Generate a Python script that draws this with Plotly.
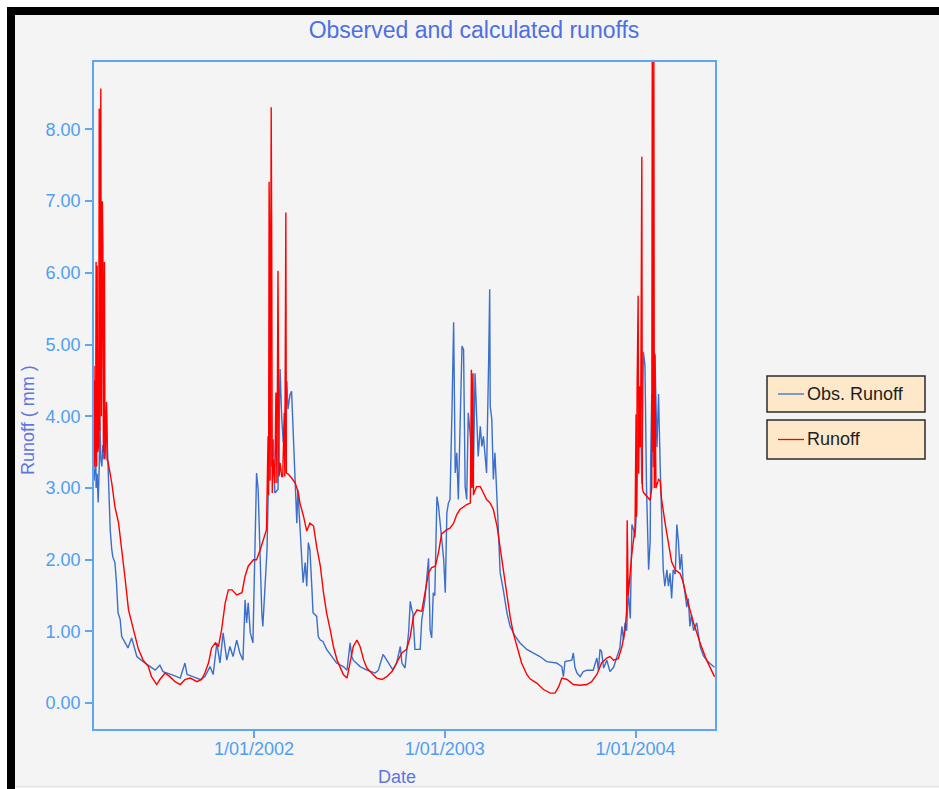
import pandas as pd
import plotly.graph_objects as go

# ---------------- data ----------------
start_date = "2001-03-01"
series_names = ["Obs. Runoff", "Runoff"]

obs_day = [0, 2, 3, 4, 6, 8, 10, 11, 13, 15, 17, 19, 21, 24, 26, 27, 31, 34, 36, 40,
           43, 46, 50, 53, 59, 65, 72, 75, 82, 94, 103, 117, 126, 132, 151, 165, 174, 178, 189, 203,
           212, 222, 228, 235, 241, 247, 254, 260, 266, 273, 279, 285, 289, 292, 295, 299, 304, 308, 311, 314,
           318, 321, 323, 327, 331, 333, 335, 337, 340, 343, 346, 352, 356, 359, 362, 366, 369, 371, 375, 378,
           381, 385, 388, 390, 394, 397, 400, 404, 407, 410, 413, 417, 419, 426, 429, 433, 438, 445, 452, 464,
           477, 484, 490, 493, 496, 509, 522, 538, 544, 553, 560, 567, 572, 579, 586, 589, 595, 602, 605, 608,
           610, 614, 624, 627, 633, 640, 643, 646, 649, 652, 656, 659, 662, 665, 669, 672, 675, 678, 681, 685,
           688, 691, 694, 697, 700, 704, 707, 710, 713, 716, 720, 723, 726, 729, 732, 735, 739, 742, 745, 748,
           751, 755, 757, 758, 761, 764, 767, 771, 774, 777, 783, 790, 796, 806, 815, 828, 840, 853, 866, 885,
           895, 898, 901, 914, 917, 920, 924, 930, 936, 943, 955, 962, 965, 968, 971, 975, 981, 987, 994, 1000,
           1006, 1010, 1013, 1016, 1019, 1022, 1026, 1029, 1032, 1035, 1038, 1041, 1045, 1048, 1051, 1054, 1057, 1061, 1064, 1065,
           1067, 1070, 1073, 1077, 1080, 1083, 1086, 1089, 1092, 1096, 1099, 1102, 1105, 1108, 1112, 1115, 1118, 1121, 1124, 1127,
           1130, 1134, 1137, 1140, 1143, 1147, 1153, 1156, 1160, 1166, 1172, 1179, 1187]
obs_val = [3.1, 3.3, 3.85, 3.0, 3.2, 2.8, 3.3, 4.0, 3.4, 3.3, 3.6, 3.4, 3.5, 4.1, 3.5, 3.3, 2.42, 2.14, 2.04, 1.96,
           1.68, 1.26, 1.17, 0.93, 0.84, 0.77, 0.91, 0.84, 0.65, 0.58, 0.53, 0.46, 0.53, 0.44, 0.39, 0.35, 0.56, 0.40, 0.37, 0.33,
           0.37, 0.51, 0.40, 0.84, 0.56, 0.98, 0.6, 0.79, 0.65, 0.88, 0.7, 0.6, 1.44, 1.12, 1.4, 0.98, 0.84, 2.18, 3.21, 2.98,
           1.91, 1.26, 1.07, 1.68, 2.14, 2.84, 3.72, 5.63, 3.3, 3.68, 2.93, 2.98, 4.66, 4.0, 3.64, 4.05, 4.49, 4.1, 4.3, 4.35,
           3.86, 3.21, 2.51, 2.98, 2.47, 1.91, 1.68, 1.96, 1.63, 2.24, 2.14, 1.58, 1.26, 1.21, 0.93, 0.88, 0.86, 0.75, 0.68, 0.56,
           0.51, 0.46, 0.84, 0.65, 0.6, 0.51, 0.46, 0.42, 0.46, 0.68, 0.6, 0.51, 0.46, 0.56, 0.79, 0.56, 0.49, 1.0, 1.42, 1.3,
           1.26, 0.75, 0.75, 1.16, 1.44, 2.02, 1.02, 0.91, 1.54, 1.5, 2.88, 2.75, 2.51, 2.37, 2.0, 1.54, 2.65, 2.79, 2.84, 4.14,
           5.31, 3.21, 3.49, 2.84, 3.82, 4.98, 4.93, 3.02, 2.84, 4.05, 3.72, 3.02, 3.3, 4.6, 4.0, 3.44, 3.86, 3.58, 3.72, 3.4,
           3.21, 4.79, 5.77, 4.14, 3.96, 3.12, 3.49, 2.84, 2.37, 1.82, 1.58, 1.26, 1.07, 0.93, 0.84, 0.75, 0.70, 0.65, 0.58, 0.56,
           0.51, 0.37, 0.58, 0.6, 0.7, 0.5, 0.42, 0.37, 0.44, 0.46, 0.46, 0.63, 0.46, 0.75, 0.72, 0.49, 0.6, 0.44, 0.5, 0.62,
           0.77, 1.07, 0.88, 1.12, 1.01, 1.57, 1.18, 2.49, 2.43, 2.31, 2.71, 3.91, 4.37, 3.06, 4.9, 4.71, 3.0, 1.86, 2.26, 3.4,
           4.31, 3.29, 4.88, 3.57, 4.31, 3.34, 2.37, 1.86, 1.63, 1.86, 1.63, 1.81, 1.46, 1.86, 1.8, 2.49, 2.26, 1.86, 2.08, 1.69,
           1.57, 1.34, 1.46, 1.07, 1.23, 1.01, 1.12, 0.95, 0.78, 0.66, 0.6, 0.55, 0.5]

sim_day = [0, 1, 2, 3, 4, 5, 6, 7, 9, 10, 11, 13, 14, 16, 17, 18, 20, 21, 24, 25,
           27, 34, 40, 47, 53, 59, 66, 72, 78, 85, 94, 104, 110, 120, 126, 136, 145, 155, 165, 174,
           184, 197, 206, 212, 219, 225, 232, 238, 244, 251, 257, 264, 273, 283, 289, 295, 305, 311, 318, 324,
           330, 333, 334, 335, 336, 337, 339, 340, 341, 343, 346, 348, 350, 352, 354, 356, 359, 361, 364, 365,
           367, 368, 372, 378, 385, 391, 394, 401, 407, 413, 420, 426, 433, 439, 445, 452, 458, 465, 471, 477,
           484, 490, 496, 503, 509, 516, 522, 531, 541, 551, 560, 570, 579, 589, 598, 605, 611, 618, 627, 633,
           640, 646, 653, 659, 665, 675, 681, 688, 694, 700, 707, 713, 720, 722, 723, 725, 726, 727, 732, 739,
           745, 751, 758, 764, 771, 777, 783, 790, 796, 802, 809, 818, 828, 834, 847, 860, 873, 882, 889, 895,
           905, 917, 930, 943, 952, 962, 971, 981, 987, 994, 1003, 1010, 1016, 1019, 1020, 1022, 1029, 1032, 1035, 1037,
           1038, 1039, 1041, 1042, 1044, 1045, 1046, 1048, 1049, 1051, 1057, 1064, 1067, 1068, 1069, 1070, 1071, 1072, 1073, 1075,
           1080, 1083, 1086, 1093, 1099, 1105, 1112, 1121, 1127, 1134, 1147, 1160, 1172, 1187]
sim_val = [4.7, 3.3, 4.5, 3.4, 6.15, 3.3, 6.1, 3.5, 3.6, 8.29, 3.8, 8.57, 4.0, 7.0, 6.38, 3.5, 6.15, 3.4, 4.2, 3.4,
           3.36, 3.07, 2.74, 2.51, 2.18, 1.77, 1.3, 1.12, 0.93, 0.75, 0.6, 0.51, 0.37, 0.26, 0.33, 0.42, 0.37, 0.3, 0.26, 0.33,
           0.35, 0.3, 0.33, 0.42, 0.56, 0.77, 0.84, 0.79, 1.02, 1.4, 1.58, 1.58, 1.51, 1.54, 1.77, 1.91, 2.0, 2.0, 2.14, 2.28,
           2.42, 3.72, 2.9, 7.27, 6.38, 3.1, 8.31, 6.36, 2.93, 3.4, 3.07, 4.33, 3.07, 6.03, 3.16, 3.35, 3.16, 3.16, 4.05, 3.16,
           6.84, 3.21, 3.19, 3.14, 3.07, 2.93, 2.79, 2.6, 2.4, 2.51, 2.47, 2.18, 1.91, 1.54, 1.26, 1.02, 0.79, 0.6, 0.51, 0.4,
           0.35, 0.56, 0.79, 0.88, 0.79, 0.6, 0.49, 0.42, 0.35, 0.33, 0.37, 0.44, 0.56, 0.70, 0.75, 0.93, 1.21, 1.3, 1.28, 1.56,
           1.82, 1.89, 1.91, 2.1, 2.36, 2.42, 2.44, 2.51, 2.63, 2.7, 2.74, 2.77, 2.79, 4.65, 3.0, 4.6, 2.9, 2.93, 3.02, 3.02,
           2.93, 2.84, 2.79, 2.7, 2.47, 2.18, 1.82, 1.49, 1.21, 0.98, 0.79, 0.56, 0.4, 0.34, 0.28, 0.19, 0.14, 0.14, 0.23, 0.35,
           0.33, 0.26, 0.25, 0.26, 0.3, 0.4, 0.56, 0.63, 0.65, 0.6, 0.62, 0.79, 1.02, 1.29, 2.55, 1.5, 2.09, 2.31, 2.43, 4.03,
           2.6, 4.4, 5.68, 3.2, 4.42, 3.57, 4.2, 7.62, 3.0, 2.94, 2.89, 2.83, 3.0, 9.3, 4.85, 3.5, 9.3, 3.0, 4.85, 3.0,
           3.12, 3.1, 2.83, 2.49, 2.2, 1.97, 1.86, 1.81, 1.69, 1.46, 1.12, 0.83, 0.6, 0.37]

y_ticks = [0, 1, 2, 3, 4, 5, 6, 7, 8]
x_tick_dates = ["2002-01-01", "2003-01-01", "2004-01-01"]
x_tick_labels = ["1/01/2002", "1/01/2003", "1/01/2004"]

# ---------------- figure ----------------
obs_dates = pd.to_datetime(start_date) + pd.to_timedelta(obs_day, unit="D")
sim_dates = pd.to_datetime(start_date) + pd.to_timedelta(sim_day, unit="D")

OBS_COLOR = "#3b6fcb"
SIM_COLOR = "#ff0000"
AXIS_COLOR = "#5ea6f5"
TICK_FONT_COLOR = "#4e9ef3"
TITLE_COLOR = "#4d6fe2"
AXTITLE_COLOR = "#5d76e0"
BG = "#f4f4f4"
FONT = "Liberation Sans, Arial, sans-serif"

W, H = 939, 789
L, R, T, B = 94, 224, 62, 60


def px_x(x):
    return (x - L) / (W - L - R)


def px_y(y):
    return (H - B - y) / (H - T - B)


fig = go.Figure()
fig.add_trace(go.Scatter(x=obs_dates, y=obs_val, mode="lines", name=series_names[0],
                         line=dict(color=OBS_COLOR, width=1.4)))
fig.add_trace(go.Scatter(x=sim_dates, y=sim_val, mode="lines", name=series_names[1],
                         line=dict(color=SIM_COLOR, width=1.4)))

shapes = []


def rect(x0, y0, x1, y1, fill, line_color=None, line_width=0, layer="above"):
    shapes.append(dict(type="rect", xref="paper", yref="paper",
                       x0=px_x(x0), x1=px_x(x1), y0=px_y(y1), y1=px_y(y0),
                       fillcolor=fill, layer=layer,
                       line=dict(color=line_color or fill, width=line_width)))


# window frame
rect(0, 0, W, 7, "white")
rect(0, 0, 7, H, "white")
rect(7, 7, W, 15, "black")
rect(7, 7, 15, H, "black")
rect(15, 786.5, W, 787.5, "#cfcfcf")
rect(15, 787.5, W, H, "white")

# legend boxes
legend_boxes = [(376, 412), (420, 459)]
legend_colors = [OBS_COLOR, SIM_COLOR]
annotations = []
for (y0, y1), col, name in zip(legend_boxes, legend_colors, series_names):
    rect(767, y0, 925, y1, "#fde9c9", line_color="#2a2a2a", line_width=1.5)
    yc = (y0 + y1) / 2
    shapes.append(dict(type="line", xref="paper", yref="paper",
                       x0=px_x(778), x1=px_x(804), y0=px_y(yc), y1=px_y(yc),
                       line=dict(color=col, width=1.3)))
    annotations.append(dict(text=name, xref="paper", yref="paper", x=px_x(805), y=px_y(yc),
                            xanchor="left", yanchor="middle", showarrow=False,
                            font=dict(family=FONT, size=18, color="#1e1e1e")))

# axis titles
annotations.append(dict(text="Date", xref="paper", yref="paper", x=px_x(397), y=px_y(777),
                        xanchor="center", yanchor="middle", showarrow=False,
                        font=dict(family=FONT, size=18, color=AXTITLE_COLOR)))
annotations.append(dict(text="Runoff ( mm )", xref="paper", yref="paper", x=px_x(28), y=px_y(420),
                        xanchor="center", yanchor="middle", showarrow=False, textangle=-90,
                        font=dict(family=FONT, size=18, color=AXTITLE_COLOR)))

fig.update_layout(
    width=W, height=H, autosize=False,
    margin=dict(l=L, r=R, t=T, b=B, pad=0),
    paper_bgcolor=BG, plot_bgcolor=BG,
    showlegend=False,
    title=dict(text="Observed and calculated runoffs", x=474 / W, xanchor="center",
               xref="container", yref="container", y=1 - 30 / H, yanchor="middle",
               font=dict(family=FONT, size=23, color=TITLE_COLOR)),
    shapes=shapes,
    annotations=annotations,
    xaxis=dict(type="date", range=["2001-03-01", "2004-06-01"],
               tickvals=x_tick_dates, ticktext=x_tick_labels,
               ticks="outside", ticklen=7, tickcolor=AXIS_COLOR, tickwidth=1.5,
               showgrid=False, zeroline=False, showline=True, mirror=True,
               linecolor=AXIS_COLOR, linewidth=1.5, ticklabelstandoff=-4,
               tickfont=dict(family=FONT, size=18, color=TICK_FONT_COLOR)),
    yaxis=dict(range=[-0.36, 8.94], tickvals=y_ticks, tickformat=".2f",
               ticks="outside", ticklen=7, tickcolor=AXIS_COLOR, tickwidth=1.5,
               showgrid=False, zeroline=False, showline=True, mirror=True,
               linecolor=AXIS_COLOR, linewidth=1.5, ticklabelstandoff=1,
               tickfont=dict(family=FONT, size=18, color=TICK_FONT_COLOR)),
)

fig.write_html("out.html")
